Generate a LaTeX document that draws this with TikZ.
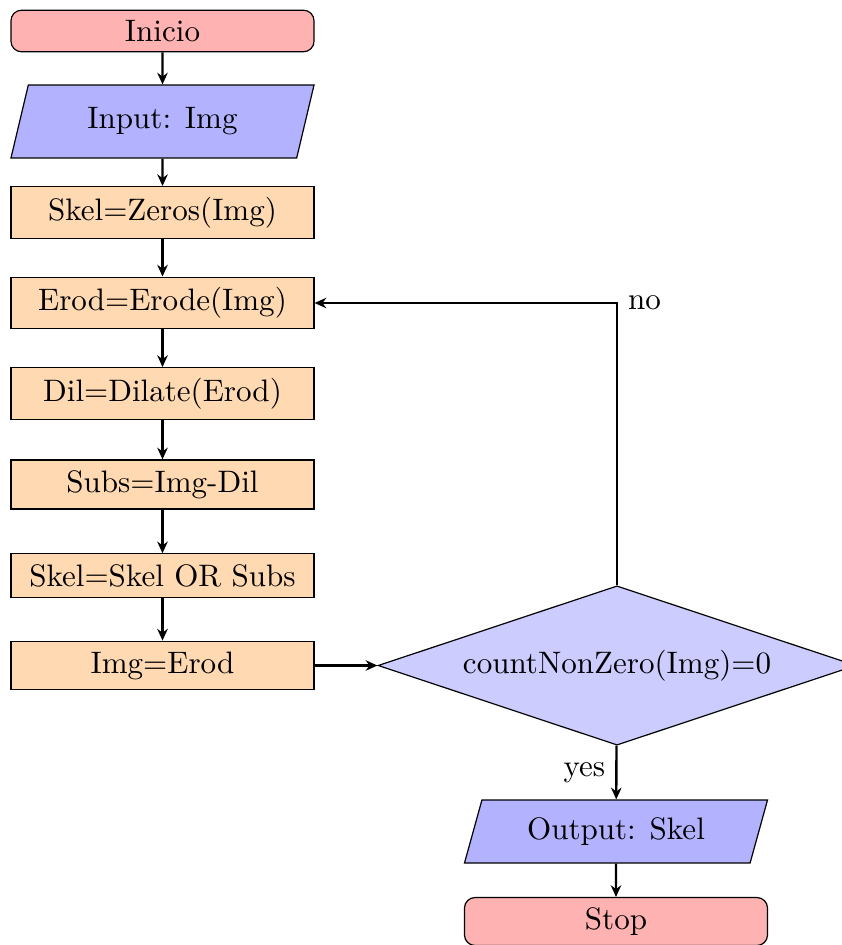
\documentclass[tikz,border=0pt]{standalone}
\usetikzlibrary{shapes.geometric,arrows.meta}
\begin{document}
\begin{tikzpicture}[x=0.3333pt,y=-0.3333pt,
  every node/.style={font=\fontsize{10.35pt}{12.4pt}\selectfont},
  startstop/.style={rectangle, rounded corners=3.5pt, minimum width=101pt, draw=black, fill=red!30},
  io/.style={trapezium, trapezium left angle=70, trapezium right angle=110, trapezium stretches body,
             minimum width=101pt, draw=black, fill=blue!30},
  procbox/.style={rectangle, minimum width=101pt, inner ysep=3.45pt, draw=black, fill=orange!30},
  decision/.style={diamond, aspect=3, inner sep=3.2pt, draw=black, fill=blue!20},
  arrow/.style={thick, -{Stealth[length=3.9pt,width=3.5pt]}}]
  \useasboundingbox (0,0) rectangle (841,945);

  \node[startstop] (start) at (162.5,31) {Inicio};
  \node[io, minimum height=24.3pt] (in) at (162.5,121.5) {Input: Img};
  \node[procbox] (p1) at (162.5,212.5) {Skel=Zeros(Img)};
  \node[procbox] (p2) at (162.5,303) {Erod=Erode(Img)};
  \node[procbox] (p3) at (162.5,393.5) {Dil=Dilate(Erod)};
  \node[procbox] (p4) at (162.5,484.5) {Subs=Img-Dil};
  \node[procbox] (p5) at (162.5,575.5) {Skel=Skel OR Subs};
  \node[procbox] (p6) at (162.5,665.5) {Img=Erod};
  \node[decision] (dec) at (617,665.5) {countNonZero(Img)=0};
  \node[io, minimum height=21pt] (out) at (616,831.5) {Output: Skel};
  \node[startstop] (stop) at (616,921.5) {Stop};

  \draw[arrow] (start) -- (in);
  \draw[arrow] (in) -- (p1);
  \draw[arrow] (p1) -- (p2);
  \draw[arrow] (p2) -- (p3);
  \draw[arrow] (p3) -- (p4);
  \draw[arrow] (p4) -- (p5);
  \draw[arrow] (p5) -- (p6);
  \draw[arrow] (p6) -- (dec);
  \draw[arrow] (dec) -- node[pos=0.5, left] {yes} (out);
  \draw[arrow] (out) -- (stop);
  \draw[arrow] (dec.north) |- node[pos=0.5, right] {no} (p2.east);
\end{tikzpicture}
\end{document}
